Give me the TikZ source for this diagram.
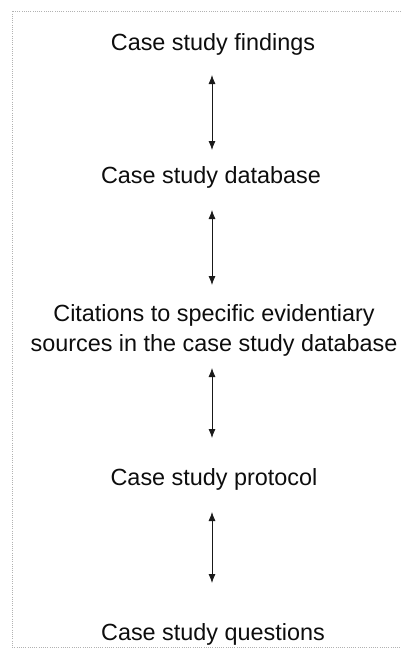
\documentclass[tikz,border=0pt]{standalone}
\usepackage{fontspec}
\setmainfont{Liberation Sans}
\usetikzlibrary{arrows.meta}
\begin{document}
\begin{tikzpicture}[x=1pt,y=-1pt,
  lbl/.style={inner sep=0pt,anchor=base,align=center,text=black!95,
    font=\fontsize{23.4}{30}\selectfont},
  arr/.style={draw=black!90,line width=0.8pt,
    {Latex[length=9pt,width=7pt]}-{Latex[length=9pt,width=7pt]}},
  frame/.style={draw=black!30,line width=0.6pt,dash pattern=on 1pt off 1.2pt}]
\useasboundingbox (0,0) rectangle (404,649);
\draw[frame] (401,11) -- (12,11) -- (12,647) -- (401,647);
\node[lbl] (f) at (213,50) {Case study findings};
\node[lbl] (d) at (211,183) {Case study database};
\node[lbl] (c) at (214,351) {Citations to specific evidentiary\\sources in the case study database};
\node[lbl] (p) at (214,485) {Case study protocol};
\node[lbl] (q) at (213,640) {Case study questions};
\draw[arr] ([xshift=-1pt,yshift=-25pt]f.base) -- ([xshift=1pt,yshift=33pt]d.base);
\draw[arr] ([xshift=1pt,yshift=-27pt]d.base) -- ([xshift=-2pt,yshift=66pt]c.base);
\draw[arr] ([xshift=-2pt,yshift=-17pt]c.base) -- ([xshift=-2pt,yshift=47pt]p.base);
\draw[arr] ([xshift=-2pt,yshift=-27pt]p.base) -- ([xshift=-1pt,yshift=57pt]q.base);
\end{tikzpicture}
\end{document}
